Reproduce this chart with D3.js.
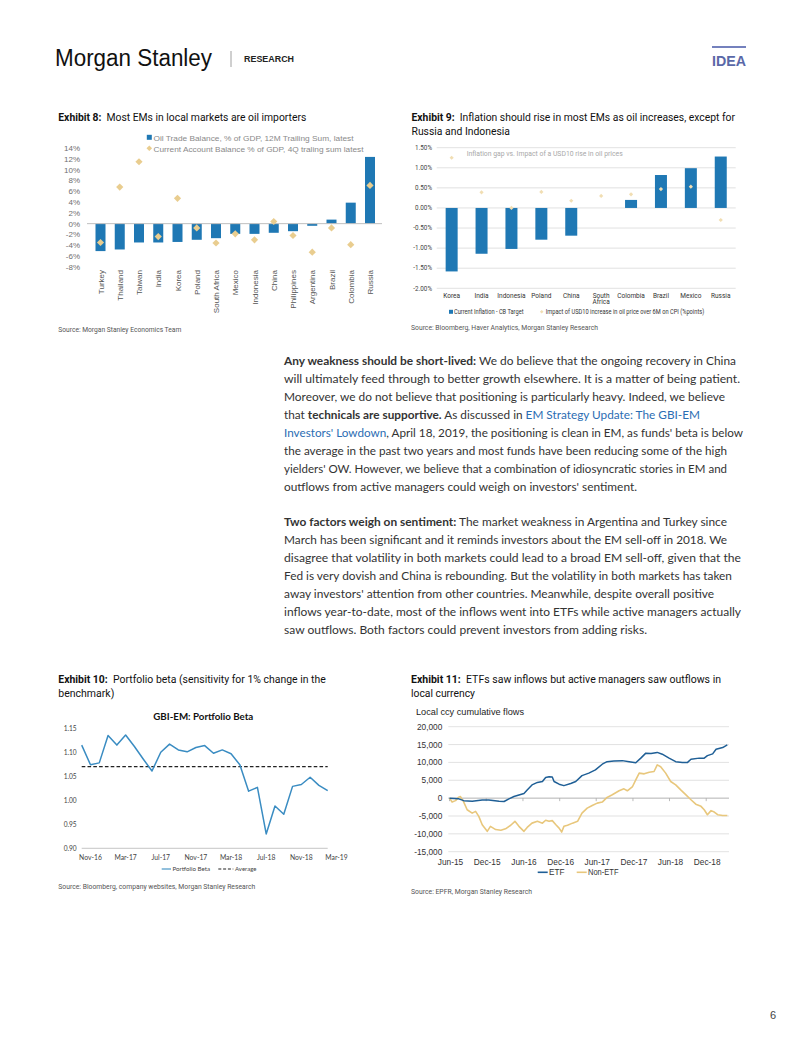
<!DOCTYPE html>
<html><head><meta charset="utf-8">
<script src="https://cdn.jsdelivr.net/npm/d3@7"></script>
<style>html,body{margin:0;padding:0;background:#fff;} svg{display:block;} text{white-space:pre;}</style>
</head><body><svg id="page" width="802" height="1037"></svg>
<script>
// ---------- DATA ----------
const ex8Countries = ["Turkey","Thailand","Taiwan","India","Korea","Poland","South Africa","Mexico","Indonesia","China","Philippines","Argentina","Brazil","Colombia","Russia"];
const ex8OilTrade = [-5.1,-4.8,-3.5,-3.5,-3.4,-3.0,-2.7,-1.9,-1.9,-1.7,-1.4,-0.4,0.75,3.9,12.4];
const ex8CurrentAccount = [-3.5,6.8,11.5,-2.4,4.7,-0.8,-3.6,-1.9,-3.0,0.4,-2.2,-5.3,-0.8,-3.9,7.1];
const ex8Ticks = [14,12,10,8,6,4,2,0,-2,-4,-6,-8];

const ex9Countries = ["Korea","India","Indonesia","Poland","China","South Africa","Colombia","Brazil","Mexico","Russia"];
const ex9InflationGap = [-1.58,-1.14,-1.02,-0.79,-0.69,0,0.2,0.82,0.99,1.28];
const ex9OilImpact = [1.25,0.39,0.0,0.40,0.18,0.30,0.34,0.47,0.53,-0.30];
const ex9Ticks = [1.5,1.0,0.5,0,-0.5,-1.0,-1.5,-2.0];

const ex10Months = ["2016-10","2016-11","2016-12","2017-01","2017-02","2017-03","2017-04","2017-05","2017-06","2017-07","2017-08","2017-09","2017-10","2017-11","2017-12","2018-01","2018-02","2018-03","2018-04","2018-05","2018-06","2018-07","2018-08","2018-09","2018-10","2018-11","2018-12","2019-01","2019-02"];
const ex10Beta = [1.115,1.074,1.078,1.135,1.115,1.136,1.112,1.086,1.061,1.100,1.117,1.105,1.101,1.110,1.114,1.098,1.105,1.097,1.074,1.019,1.027,0.930,0.988,0.971,1.029,1.033,1.048,1.031,1.020];
const ex10Average = 1.07;
const ex10Ticks = [0.90,0.95,1.00,1.05,1.10,1.15];
const ex10TickLabels = ["Nov-16","Mar-17","Jul-17","Nov-17","Mar-18","Jul-18","Nov-18","Mar-19"];

const ex11EtfDates = ["2015-06-01","2015-07-17","2015-08-11","2015-09-22","2015-11-11","2015-12-14","2016-02-03","2016-02-28","2016-03-23","2016-04-17","2016-06-06","2016-06-22","2016-07-16","2016-08-12","2016-09-06","2016-09-22","2016-10-09","2016-10-25","2016-11-03","2016-11-28","2016-12-22","2017-01-25","2017-02-19","2017-03-22","2017-04-25","2017-05-28","2017-07-01","2017-07-25","2017-08-28","2017-10-09","2017-11-12","2017-12-15","2018-01-09","2018-02-03","2018-03-01","2018-04-01","2018-04-26","2018-05-30","2018-07-02","2018-08-04","2018-08-30","2018-09-16","2018-10-27","2018-11-21","2018-12-07","2019-01-02","2019-01-19","2019-02-21","2019-03-16"];
const ex11EtfValues = [0,-200,-700,-900,-550,-500,-900,-950,-200,450,1300,2300,3700,4400,4650,5800,6000,5900,4650,3900,3500,4100,4650,6300,7000,7900,9500,10200,10400,10500,10200,9900,11200,12600,12500,12800,12300,11200,10200,9950,10000,10900,11200,11200,11900,12400,13700,14150,14900];
const ex11NonEtfDates = ["2015-06-01","2015-06-14","2015-07-01","2015-07-17","2015-07-25","2015-08-11","2015-08-28","2015-09-22","2015-10-09","2015-10-25","2015-11-11","2015-12-06","2015-12-22","2016-01-17","2016-02-12","2016-03-06","2016-04-01","2016-04-22","2016-05-12","2016-06-06","2016-06-22","2016-07-16","2016-08-12","2016-09-06","2016-09-22","2016-10-09","2016-10-25","2016-11-12","2016-11-28","2016-12-11","2016-12-22","2017-01-09","2017-02-03","2017-02-28","2017-03-22","2017-04-17","2017-05-12","2017-06-06","2017-07-01","2017-07-25","2017-08-20","2017-09-23","2017-10-17","2017-11-03","2017-11-29","2017-12-15","2018-01-01","2018-01-26","2018-02-20","2018-03-16","2018-04-01","2018-04-18","2018-05-13","2018-06-07","2018-07-02","2018-07-27","2018-08-22","2018-09-16","2018-10-10","2018-11-05","2018-11-21","2018-12-07","2018-12-25","2019-01-10","2019-01-27","2019-02-21","2019-03-16"];
const ex11NonEtfValues = [0,-1100,-700,280,470,-1100,-3250,-4200,-3700,-5100,-7450,-9300,-7900,-8800,-9000,-8600,-7600,-6500,-7900,-9300,-8200,-7000,-6500,-7000,-6200,-6500,-6300,-7450,-8400,-9500,-7900,-7600,-7000,-6500,-4200,-2800,-2050,-1400,-1100,200,930,2050,2600,2050,3250,5100,7000,6800,7260,7450,9300,8800,7000,4650,3700,2300,930,-450,-1700,-2300,-3250,-4650,-3500,-3900,-4650,-4850,-4850];
const ex11Ticks = [20000,15000,10000,5000,0,-5000,-10000,-15000];
const ex11TickLabels = ["Jun-15","Dec-15","Jun-16","Dec-16","Jun-17","Dec-17","Jun-18","Dec-18"];

// ---------- HELPERS ----------
const svg = d3.select("#page");
svg.append("rect").attr("width",802).attr("height",1037).attr("fill","#fff");
const ARIAL = "'Liberation Sans', Arial, sans-serif";
const ROBOTO = "Roboto, 'Liberation Sans', sans-serif";
const LATO = "Lato, 'Open Sans', sans-serif";
function addText(x, y, segs, o) {
  const t = svg.append("text").attr("x", x).attr("y", y)
    .attr("font-family", o.family || ARIAL)
    .attr("font-size", o.size).attr("fill", o.fill || "#222");
  if (o.anchor) t.attr("text-anchor", o.anchor);
  if (o.len) t.attr("textLength", o.len).attr("lengthAdjust", "spacingAndGlyphs");
  if (o.weight) t.attr("font-weight", o.weight);
  if (o.ls) t.attr("letter-spacing", o.ls);
  if (typeof segs === "string") segs = [[segs, ""]];
  segs.forEach(s => {
    const ts = t.append("tspan").text(s[0]);
    if (s[1] === "b") ts.attr("font-weight", "bold");
    if (s[1] === "l") ts.attr("fill", "#2b6db3");
  });
  return t;
}
const hy = f => d => (d < 0 ? "-" : "") + f(Math.abs(d));
function diamond(cx, cy, r) { return `M${cx},${cy-r}L${cx+r},${cy}L${cx},${cy+r}L${cx-r},${cy}Z`; }

// ---------- HEADER ----------
addText(55, 66, "Morgan Stanley", {size: 23, family: ARIAL, fill: "#111", len: 157});
svg.append("line").attr("x1",231).attr("x2",231).attr("y1",51).attr("y2",67).attr("stroke","#888").attr("stroke-width",0.8);
addText(244, 62, "RESEARCH", {size: 8.5, weight: "bold", fill: "#222", len: 50});
svg.append("rect").attr("x",712).attr("y",46).attr("width",34).attr("height",2).attr("fill","#7481bd");
addText(712, 66, "IDEA", {size: 14, weight: "bold", fill: "#5a68a8", len: 34});
addText(770, 1019, "6", {size: 11, fill: "#444"});

// ---------- TITLES & SOURCES ----------
addText(58.3, 121, [["Exhibit 8:","b"],["  Most EMs in local markets are oil importers",""]], {size:10, family:ROBOTO, fill:"#111", len:248});
addText(411.5, 121, [["Exhibit 9:","b"],["  Inflation should rise in most EMs as oil increases, except for",""]], {size:10, family:ROBOTO, fill:"#111", len:323.5});
addText(411.5, 134.5, "Russia and Indonesia", {size:10, family:ROBOTO, fill:"#111", len:98.5});
addText(58.3, 682.5, [["Exhibit 10:","b"],["  Portfolio beta (sensitivity for 1% change in the",""]], {size:10, family:ROBOTO, fill:"#111", len:267.5});
addText(58.3, 697, "benchmark)", {size:10, family:ROBOTO, fill:"#111", len:56});
addText(411, 682.5, [["Exhibit 11:","b"],["  ETFs saw inflows but active managers saw outflows in",""]], {size:10, family:ROBOTO, fill:"#111", len:310});
addText(411, 696.5, "local currency", {size:10, family:ROBOTO, fill:"#111", len:64});

addText(58.3, 331.5, "Source: Morgan Stanley Economics Team", {size:6.5, family:ROBOTO, fill:"#555", len:123});
addText(411, 330, "Source: Bloomberg, Haver Analytics, Morgan Stanley Research", {size:6.5, family:ROBOTO, fill:"#555", len:187});
addText(58.3, 889, "Source: Bloomberg, company websites, Morgan Stanley Research", {size:6.5, family:ROBOTO, fill:"#555", len:197});
addText(411, 894, "Source: EPFR, Morgan Stanley Research", {size:6.5, family:ROBOTO, fill:"#555", len:121});

// ---------- BODY TEXT ----------
const para1 = [
  [[["Any weakness should be short-lived:","b"],[" We do believe that the ongoing recovery in China",""]], 736],
  [[["will ultimately feed through to better growth elsewhere. It is a matter of being patient.",""]], 740],
  [[["Moreover, we do not believe that positioning is particularly heavy. Indeed, we believe",""]], 725],
  [[["that ",""],["technicals are supportive.","b"],[" As discussed in ",""],["EM Strategy Update: The GBI-EM","l"]], 700],
  [[["Investors' Lowdown","l"],[", April 18, 2019, the positioning is clean in EM, as funds' beta is below",""]], 743],
  [[["the average in the past two years and most funds have been reducing some of the high",""]], 727],
  [[["yielders' OW. However, we believe that a combination of idiosyncratic stories in EM and",""]], 727],
  [[["outflows from active managers could weigh on investors' sentiment.",""]], 637]
];
const para2 = [
  [[["Two factors weigh on sentiment:","b"],[" The market weakness in Argentina and Turkey since",""]], 727],
  [[["March has been significant and it reminds investors about the EM sell-off in 2018. We",""]], 727],
  [[["disagree that volatility in both markets could lead to a broad EM sell-off, given that the",""]], 741],
  [[["Fed is very dovish and China is rebounding. But the volatility in both markets has taken",""]], 732],
  [[["away investors' attention from other countries. Meanwhile, despite overall positive",""]], 714],
  [[["inflows year-to-date, most of the inflows went into ETFs while active managers actually",""]], 741],
  [[["saw outflows. Both factors could prevent investors from adding risks.",""]], 647]
];
para1.forEach((l,i) => addText(284, 365 + i*18.05, l[0], {size:12, family:LATO, fill:"#333", len:l[1]-284}));
para2.forEach((l,i) => addText(284, 525.5 + i*18.1, l[0], {size:12, family:LATO, fill:"#333", len:l[1]-284}));

// ---------- EXHIBIT 8 ----------
{
  const x = d3.scalePoint().domain(ex8Countries).range([100.5, 370]);
  const y = d3.scaleLinear().domain([-8, 14]).range([266.7, 148.3]);
  const g = svg.append("g");
  g.selectAll("rect.bar").data(ex8OilTrade).join("rect")
    .attr("x", (d,i) => x(ex8Countries[i]) - 5).attr("width", 10)
    .attr("y", d => y(Math.max(0,d))).attr("height", d => Math.abs(y(d) - y(0)))
    .attr("fill", "#1f78b4");
  g.append("line").attr("x1",87).attr("x2",382).attr("y1",y(0)).attr("y2",y(0)).attr("stroke","#bfbfbf").attr("stroke-width",1);
  g.selectAll("path.dia").data(ex8CurrentAccount).join("path")
    .attr("d", (d,i) => diamond(x(ex8Countries[i]), y(d), 3.6)).attr("fill", "#e9cd8f");
  g.selectAll("text.yt").data(ex8Ticks).join("text")
    .attr("x", 80).attr("y", d => y(d) + 2.9).attr("text-anchor","end")
    .attr("font-family", ARIAL).attr("font-size", 8).attr("fill","#6f6f6f").text(d => d + "%");
  g.selectAll("text.xl").data(ex8Countries).join("text")
    .attr("transform", d => `translate(${x(d)+3},270) rotate(-90)`).attr("text-anchor","end")
    .attr("font-family", ARIAL).attr("font-size", 8).attr("fill","#555").text(d => d);
  g.append("rect").attr("x",146.8).attr("y",134.8).attr("width",5).attr("height",5).attr("fill","#1f78b4");
  addText(153.5, 140.6, "Oil Trade Balance, % of GDP, 12M Trailing Sum, latest", {size:8, family:ARIAL, fill:"#8a8a8a", len:200});
  g.append("path").attr("d", diamond(149.3, 148.3, 2.8)).attr("fill","#e9cd8f");
  addText(153.5, 151.5, "Current Account Balance % of GDP, 4Q traling sum latest", {size:8, family:ARIAL, fill:"#8a8a8a", len:210});
}

// ---------- EXHIBIT 9 ----------
{
  const x = d3.scaleBand().domain(ex9Countries).range([436.7, 735.7]);
  const y = d3.scaleLinear().domain([-2, 1.5]).range([288.3, 147.7]);
  const g = svg.append("g");
  g.selectAll("line.grid").data(ex9Ticks).join("line")
    .attr("x1",436.7).attr("x2",735.7).attr("y1",d=>y(d)).attr("y2",d=>y(d)).attr("stroke","#d9d9d9").attr("stroke-width",0.8);
  g.selectAll("text.yt").data(ex9Ticks).join("text")
    .attr("x", 432).attr("y", d => y(d) + 2.2).attr("text-anchor","end")
    .attr("font-family", ROBOTO).attr("font-size", 6.3).attr("fill","#444").text(d => hy(d3.format(".2f"))(d) + "%");
  g.selectAll("rect.bar").data(ex9InflationGap).join("rect")
    .attr("x", (d,i) => x(ex9Countries[i]) + x.bandwidth()/2 - 6).attr("width", 12)
    .attr("y", d => y(Math.max(0,d))).attr("height", d => Math.abs(y(d) - y(0)))
    .attr("fill", "#1f78b4");
  g.selectAll("path.dia").data(ex9OilImpact).join("path")
    .attr("d", (d,i) => diamond(x(ex9Countries[i]) + x.bandwidth()/2, y(d), 2.1)).attr("fill", "#f1deb3");
  ex9Countries.forEach(c => {
    const cx = x(c) + x.bandwidth()/2;
    const parts = c === "South Africa" ? ["South","Africa"] : [c];
    parts.forEach((p,j) => g.append("text").attr("x",cx).attr("y",297.5 + j*6.2).attr("text-anchor","middle")
      .attr("font-family", ROBOTO).attr("font-size", 6.5).attr("fill","#333").text(p));
  });
  addText(466.7, 156, "Inflation gap vs. Impact of a USD10 rise in oil prices", {size:7.5, family:ROBOTO, fill:"#a8a8a8", len:156});
  g.append("rect").attr("x",449).attr("y",309.8).attr("width",4).attr("height",4).attr("fill","#1f78b4");
  addText(454, 314, "Current Inflation - CB Target", {size:6.3, family:ROBOTO, fill:"#333", len:69.5});
  g.append("path").attr("d", diamond(541.7, 311.8, 1.8)).attr("fill","#f1deb3");
  addText(545.7, 314, "Impact of USD10 increase in oil price over 6M on CPI (%points)", {size:6.3, family:ROBOTO, fill:"#333", len:158.5});
}

// ---------- EXHIBIT 10 ----------
{
  const parseM = d3.timeParse("%Y-%m");
  const m0 = parseM(ex10Months[0]);
  const idx = dt => d3.timeMonth.count(m0, dt);
  const x = d3.scaleLinear().domain([0, ex10Months.length - 1]).range([81.7, 327.7]);
  const y = d3.scaleLinear().domain([0.90, 1.15]).range([848.3, 728.3]);
  const g = svg.append("g");
  addText(203.3, 720, "GBI-EM: Portfolio Beta", {size:9, family:LATO, weight:"bold", fill:"#111", anchor:"middle", len:100});
  g.append("line").attr("x1",81.7).attr("x2",327.7).attr("y1",y(0.9)).attr("y2",y(0.9)).attr("stroke","#bfbfbf").attr("stroke-width",0.9);
  g.selectAll("text.yt").data(ex10Ticks).join("text")
    .attr("x", 76.7).attr("y", d => y(d) + 2.3).attr("text-anchor","end")
    .attr("font-family", LATO).attr("font-size", 6.6).attr("fill","#444").text(d => d3.format(".2f")(d));
  const tickDates = ex10TickLabels.map(d3.timeParse("%b-%y"));
  g.selectAll("text.xl").data(ex10TickLabels).join("text")
    .attr("x", (d,i) => x(idx(tickDates[i]))).attr("y", 860.2).attr("text-anchor","middle")
    .attr("font-family", LATO).attr("font-size", 6.8).attr("fill","#444").text(d => d);
  g.append("line").attr("x1",x(0)).attr("x2",x(ex10Months.length-1)).attr("y1",y(ex10Average)).attr("y2",y(ex10Average))
    .attr("stroke","#222").attr("stroke-width",1.3).attr("stroke-dasharray","3.6,2.2");
  g.append("path").datum(ex10Beta).attr("fill","none").attr("stroke","#3a8cc2").attr("stroke-width",1.5)
    .attr("stroke-linejoin","round")
    .attr("d", d3.line().x((d,i) => x(i)).y(d => y(d)));
  g.append("line").attr("x1",161.7).attr("x2",171).attr("y1",869).attr("y2",869).attr("stroke","#3a8cc2").attr("stroke-width",1.1);
  addText(172.5, 871, "Portfolio Beta", {size:5.6, family:LATO, fill:"#444", len:37.5});
  g.append("line").attr("x1",218.3).attr("x2",233.3).attr("y1",869).attr("y2",869).attr("stroke","#222").attr("stroke-width",1.1).attr("stroke-dasharray","3,1.8");
  addText(235, 871, "Average", {size:5.6, family:LATO, fill:"#444", len:21.5});
}

// ---------- EXHIBIT 11 ----------
{
  const pd = d3.timeParse("%Y-%m-%d");
  const x = d3.scaleTime().domain([pd("2015-06-01"), pd("2019-03-18")]).range([449.5, 727.7]);
  const y = d3.scaleLinear().domain([-15000, 20000]).range([851.7, 726.7]);
  const g = svg.append("g");
  addText(416, 715, "Local ccy cumulative flows", {size:9, family:ARIAL, fill:"#222", len:108});
  g.selectAll("line.grid").data(ex11Ticks.filter(d => d !== 0)).join("line")
    .attr("x1",448.3).attr("x2",729).attr("y1",d=>y(d)).attr("y2",d=>y(d)).attr("stroke","#dadada").attr("stroke-width",0.8);
  g.append("line").attr("x1",448.3).attr("x2",729).attr("y1",y(0)).attr("y2",y(0)).attr("stroke","#a9a9a9").attr("stroke-width",0.9);
  const tickDates = ex11TickLabels.map(d3.timeParse("%b-%y"));
  g.selectAll("line.tk").data(tickDates).join("line")
    .attr("x1", d => x(d)).attr("x2", d => x(d)).attr("y1", y(0)).attr("y2", y(0) + 3).attr("stroke","#a9a9a9").attr("stroke-width",0.8);
  g.selectAll("text.yt").data(ex11Ticks).join("text")
    .attr("x", 442.3).attr("y", d => y(d) + 3).attr("text-anchor","end")
    .attr("font-family", ARIAL).attr("font-size", 8.3).attr("fill","#333").text(d => hy(d3.format(","))(d));
  g.selectAll("text.xl").data(ex11TickLabels).join("text")
    .attr("x", (d,i) => x(tickDates[i]) + 1).attr("y", 864.8).attr("text-anchor","middle")
    .attr("font-family", ARIAL).attr("font-size", 8.3).attr("fill","#333").text(d => d);
  const line = d3.line().x(d => x(d[0])).y(d => y(d[1])).curve(d3.curveLinear);
  g.append("path").datum(ex11NonEtfDates.map((d,i) => [pd(d), ex11NonEtfValues[i]]))
    .attr("fill","none").attr("stroke","#e8c77c").attr("stroke-width",1.6).attr("stroke-linejoin","round").attr("d", line);
  g.append("path").datum(ex11EtfDates.map((d,i) => [pd(d), ex11EtfValues[i]]))
    .attr("fill","none").attr("stroke","#1f5f96").attr("stroke-width",1.5).attr("stroke-linejoin","round").attr("d", line);
  g.append("line").attr("x1",537.7).attr("x2",547.7).attr("y1",872.3).attr("y2",872.3).attr("stroke","#1f5f96").attr("stroke-width",1.6);
  addText(549, 875.3, "ETF", {size:8.3, family:ARIAL, fill:"#333", len:15.5});
  g.append("line").attr("x1",576.7).attr("x2",586.7).attr("y1",872.3).attr("y2",872.3).attr("stroke","#e8c77c").attr("stroke-width",1.6);
  addText(588, 875.3, "Non-ETF", {size:8.3, family:ARIAL, fill:"#333", len:30.5});
}
</script>
</body></html>
